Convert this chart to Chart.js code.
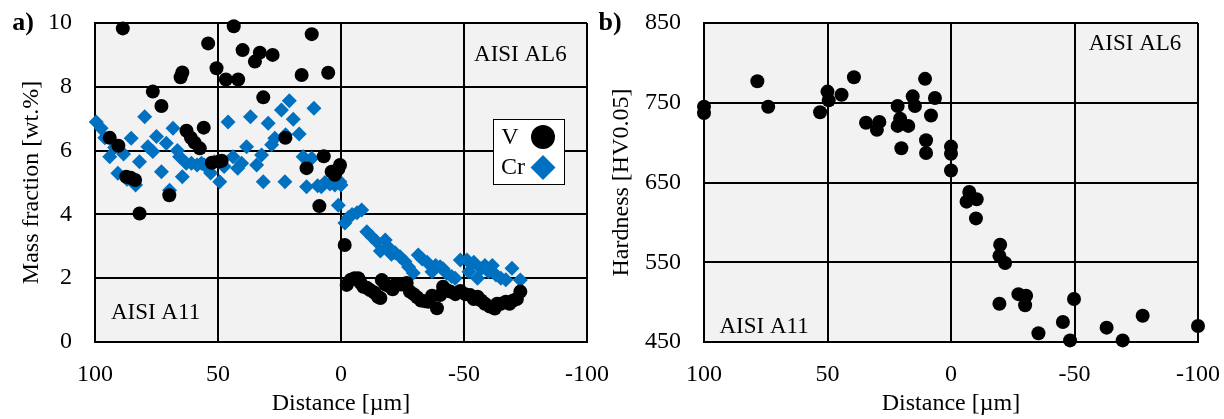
<!DOCTYPE html>
<html>
<head>
<meta charset="utf-8">
<title>Mass fraction and hardness profiles</title>
<script src="https://cdn.jsdelivr.net/npm/chart.js@4.4.0/dist/chart.umd.min.js"></script>
<style>
  html, body { margin: 0; padding: 0; background: #fff; }
  #wrap { position: relative; width: 1224px; height: 419px; overflow: hidden; }
  canvas { position: absolute; top: 0; }
</style>
</head>
<body>
<div id="wrap">
  <canvas id="chartA" width="612" height="419" style="left:0"></canvas>
  <canvas id="chartB" width="634" height="419" style="left:590px"></canvas>
</div>
<script>
// values, distance in µm (x axis runs 100 -> -100)
const distTicks = [100, 50, 0, -50, -100];

// a) V content [wt.%]
const vDist = [94, 90.5, 88.7, 87.3, 85.5, 83.7, 81.9, 76.5, 73, 69.8, 65.2, 64.5, 62.8, 61, 59.5, 57.4,
  55.8, 54, 52.5, 50.6, 49.5, 48.5, 46.8, 43.6, 41.8, 40, 35, 33, 31.6, 27.8, 22.6, 16, 14, 11.9, 8.8,
  7, 5.2, 3.8, 2.5, 1.1, 0.4,
  -1.5, -2.3, -4, -5.5, -7, -8, -9.1, -10.5, -11.8, -13.5, -15, -16, -16.6, -18, -19.5, -21, -22.5,
  -24.5, -26.7, -28, -29.5, -31, -32.5, -34, -35.5, -37, -39, -40.3, -41.5, -43, -44.4, -46.5, -48.5,
  -50.5, -52.5, -54, -55.5, -57, -58.5, -60.5, -62.5, -63.5, -65, -67, -68.5, -70, -71.5, -72.9];
const vFrac = [6.4, 6.15, 9.83, 5.18, 5.15, 5.08, 4.03, 7.85, 7.4, 4.6, 8.3, 8.45, 6.62, 6.4, 6.25, 6.07,
  6.72, 9.36, 5.62, 8.58, 5.66, 5.68, 8.23, 9.9, 8.23, 9.15, 8.79, 9.07, 7.67, 9.0, 6.4, 8.37, 5.45, 9.65, 4.26,
  5.82, 8.44, 5.34, 5.24, 5.42, 5.55,
  3.04, 1.79, 1.95, 2.0, 2.0, 1.85, 1.73, 1.7, 1.63, 1.55, 1.42, 1.38, 1.94, 1.8, 1.75, 1.65, 1.82,
  1.8, 1.85, 1.58, 1.5, 1.4, 1.3, 1.28, 1.26, 1.45, 1.06, 1.47, 1.73, 1.62, 1.58, 1.5, 1.6,
  1.5, 1.47, 1.35, 1.42, 1.3, 1.2, 1.11, 1.05, 1.2, 1.2, 1.26, 1.2, 1.3, 1.35, 1.58];

// a) Cr content [wt.%]
const crDist = [99.5, 97.5, 96, 94, 92, 90.7, 88.4, 87, 85.3, 83.5, 81.9, 79.8, 78.5, 76.5, 75, 73, 71,
  69.7, 68.3, 66.5, 65.6, 64.5, 62.9, 60.8, 58.5, 56.7, 55.5, 53, 51.5, 49.3, 47.5, 45.9, 43.9, 42, 40.4,
  38.4, 36.8, 34.3, 32.3, 31.6, 29.6, 28.2, 26.9, 24.2, 22.5, 21, 22.8, 19.4, 17, 15.4, 14, 11.9, 11,
  9.5, 8, 6.5, 4.5, 2.5, 0.4, 0, 1.1,
  -1.6, -3, -4.5, -6.5, -8.4, -10.5, -12.5, -14.5, -16, -18, -19, -20.5, -22, -24, -26, -27.5, -29.4,
  -31.4, -33, -35, -37, -38.5, -40.3, -41.5, -43, -45, -46.4, -48.5, -51.2, -52, -54, -55.5, -57,
  -58.5, -60, -61.5, -63, -65, -67, -69.5, -72.9];
const crFrac = [6.9, 6.7, 6.4, 5.81, 6.1, 5.29, 5.89, 5.1, 6.39, 4.92, 5.65, 7.06, 6.12, 5.97, 6.44, 5.34, 6.23,
  4.76, 6.7, 6.0, 5.81, 5.18, 5.6, 5.6, 5.55, 5.6, 5.55, 5.3, 5.65, 5.02, 5.5, 6.9, 5.81, 5.45, 5.6,
  6.12, 7.06, 5.55, 5.86, 5.02, 6.86, 6.18, 6.39, 7.27, 6.5, 7.56, 5.02, 6.98, 6.52, 5.81, 4.87, 5.76, 7.33,
  4.9, 4.87, 5.0, 4.95, 4.92, 5.02, 4.92, 4.29,
  3.73, 3.9, 4.0, 4.05, 4.14, 3.46, 3.3, 3.14, 2.85, 3.2, 2.99, 2.75, 2.8, 2.67, 2.52, 2.35, 2.16,
  2.73, 2.6, 2.5, 2.2, 2.4, 2.36, 2.3, 2.15, 2.05, 2.0, 2.57, 2.57, 2.2, 2.5, 2.0, 2.3,
  2.4, 2.2, 2.4, 2.1, 2.0, 1.95, 2.31, 1.94];

// b) hardness [HV0.05]
const hvDist = [100, 100, 78.4, 74, 53, 50, 49.5, 44.3, 39.3, 34.4, 30, 29, 21.6, 20.6, 21.6, 17.3, 20.1,
  15.5, 14.6, 10.5, 10.1, 10.1, 6.5, 8.1, 0, 0, 0, -7.4, -6.3, -10.4, -10.1, -19.9, -19.6, -21.9,
  -19.6, -27.3, -30.4, -30, -35.4, -45.3, -48.2, -49.8, -63, -69.5, -77.6, -100];
const hvVal = [745, 737, 777, 745, 738, 764, 753, 760, 782, 725, 716, 726, 746, 730, 721, 721, 693,
  758, 746, 780, 703, 687, 756, 734, 695, 686, 665, 638, 626, 629, 605, 572, 558, 549,
  498, 510, 508, 496, 461, 475, 452, 504, 468, 452, 483, 470];

const massTicks = [0, 2, 4, 6, 8, 10];
const hardTicks = [450, 550, 650, 750, 850];

const toPoints = (xs, ys) => xs.map((x, i) => ({ x: x, y: ys[i] }));

const SERIF = '"Liberation Serif", "Times New Roman", serif';
const BLUE = '#0070c0';

// plot background, panel letter, notes and the small legend box
const decor = {
  id: 'decor',
  beforeDraw(chart) {
    const { ctx, chartArea: a } = chart;
    ctx.save();
    ctx.fillStyle = '#f2f2f2';
    ctx.fillRect(a.left, a.top, a.right - a.left, a.bottom - a.top);
    ctx.restore();
  },
  afterDraw(chart, args, o) {
    const { ctx, chartArea: a, scales: { x, y } } = chart;
    ctx.save();
    ctx.fillStyle = '#000';
    ctx.textAlign = 'center';
    ctx.textBaseline = 'middle';
    ctx.font = 'bold 26px ' + SERIF;
    ctx.fillText(o.letter, o.letterX, o.letterY);
    ctx.font = '23px ' + SERIF;
    o.notes.forEach(n => ctx.fillText(n.text, x.getPixelForValue(n.x), y.getPixelForValue(n.y)));

    if (o.legend) {
      const bx = a.left + 398, by = a.top + 96, bw = 71, bh = 65;
      ctx.fillStyle = '#fff';
      ctx.fillRect(bx, by, bw, bh);
      ctx.strokeStyle = '#000';
      ctx.lineWidth = 1;
      ctx.strokeRect(bx + 0.5, by + 0.5, bw, bh);
      ctx.fillStyle = '#000';
      ctx.font = '24px ' + SERIF;
      ctx.fillText('V', bx + 17, by + 19);
      ctx.fillText('Cr', bx + 20, by + 49);
      ctx.beginPath();
      ctx.arc(bx + 50, by + 18, 12, 0, Math.PI * 2);
      ctx.fill();
      ctx.fillStyle = BLUE;
      ctx.beginPath();
      ctx.moveTo(bx + 50, by + 36);
      ctx.lineTo(bx + 62.5, by + 48.5);
      ctx.lineTo(bx + 50, by + 61);
      ctx.lineTo(bx + 37.5, by + 48.5);
      ctx.closePath();
      ctx.fill();
    }
    ctx.restore();
  }
};

function axes(yTicks, yTitle, yWidth) {
  const grid = { color: '#000', lineWidth: 2, drawTicks: false };
  const border = { color: '#000', width: 2 };
  return {
    x: {
      type: 'linear', reverse: true, min: -100, max: 100,
      afterBuildTicks: s => { s.ticks = distTicks.map(v => ({ value: v })); },
      // fixed axis height; let layout.padding alone decide the plot edges
      afterFit: s => { s.height = 77; s.paddingLeft = 0; s.paddingRight = 0; },
      grid: grid, border: border,
      ticks: { color: '#000', padding: 18, maxRotation: 0, font: { family: SERIF, size: 24 } },
      title: { display: true, text: 'Distance [µm]', color: '#000', padding: { top: 0, bottom: 1 },
        font: { family: SERIF, size: 24 } }
    },
    y: {
      type: 'linear', min: yTicks[0], max: yTicks[yTicks.length - 1],
      afterBuildTicks: s => { s.ticks = yTicks.map(v => ({ value: v })); },
      afterFit: s => { s.width = yWidth; s.paddingTop = 0; s.paddingBottom = 0; },
      grid: grid, border: border,
      ticks: { color: '#000', padding: 23, font: { family: SERIF, size: 24 } },
      title: { display: true, text: yTitle, color: '#000', padding: { top: 17, bottom: 0 },
        font: { family: SERIF, size: 24 } }
    }
  };
}

new Chart(document.getElementById('chartA'), {
  type: 'scatter',
  data: {
    datasets: [
      { label: 'V', data: toPoints(vDist, vFrac), pointStyle: 'circle', pointRadius: 7,
        backgroundColor: '#000', borderColor: '#000', borderWidth: 0, clip: false },
      { label: 'Cr', data: toPoints(crDist, crFrac), pointStyle: 'rectRot', pointRadius: 7.5,
        backgroundColor: BLUE, borderColor: BLUE, borderWidth: 0, clip: false }
    ]
  },
  options: {
    responsive: false,
    animation: false,
    layout: { padding: { top: 23, right: 25, left: 0, bottom: 0 } },
    scales: axes(massTicks, 'Mass fraction [wt.%]', 95),
    plugins: {
      legend: { display: false },
      tooltip: { enabled: false },
      decor: {
        letter: 'a)', letterX: 23, letterY: 23, legend: true,
        notes: [{ text: 'AISI AL6', x: -72.9, y: 9.0 }, { text: 'AISI A11', x: 75.4, y: 0.9 }]
      }
    }
  },
  plugins: [decor]
});

new Chart(document.getElementById('chartB'), {
  type: 'scatter',
  data: {
    datasets: [
      { label: 'Hardness', data: toPoints(hvDist, hvVal), pointStyle: 'circle', pointRadius: 7,
        backgroundColor: '#000', borderColor: '#000', borderWidth: 0, clip: false }
    ]
  },
  options: {
    responsive: false,
    animation: false,
    layout: { padding: { top: 23, right: 26, left: 0, bottom: 0 } },
    scales: axes(hardTicks, 'Hardness [HV0.05]', 114),
    plugins: {
      legend: { display: false },
      tooltip: { enabled: false },
      decor: {
        letter: 'b)', letterX: 20, letterY: 23, legend: false,
        notes: [{ text: 'AISI AL6', x: -74.5, y: 823.7 }, { text: 'AISI A11', x: 75.7, y: 469 }]
      }
    }
  },
  plugins: [decor]
});
</script>
</body>
</html>
